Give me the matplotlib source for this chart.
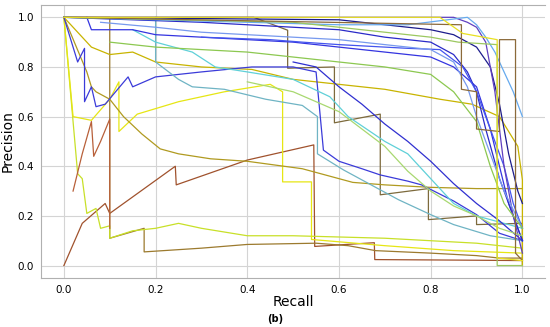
import numpy as np
import matplotlib.pyplot as plt

# -----------------------------
# PR CURVES
# -----------------------------
sienna_r = [0.0, 0.04, 0.09, 0.10, 0.243, 0.245, 0.40, 0.545, 0.547, 0.677, 0.678, 0.85, 1.0]
sienna_p = [0.0, 0.17, 0.25, 0.21, 0.40, 0.325, 0.425, 0.486, 0.077, 0.092, 0.024, 0.022, 0.02]

oliveb_r = [0.0, 0.414, 0.488, 0.488, 0.59, 0.59, 0.69, 0.69, 0.795, 0.795, 0.90, 0.90, 1.0, 1.0]
oliveb_p = [1.0, 1.0, 0.948, 0.795, 0.80, 0.575, 0.61, 0.285, 0.31, 0.185, 0.20, 0.165, 0.17, 0.0]

low_r = [0.0, 0.10, 0.10, 0.175, 0.175, 0.30, 0.40, 0.55, 0.62, 0.68, 0.80, 0.90, 0.95, 1.0]
low_p = [1.0, 1.0, 0.11, 0.15, 0.055, 0.07, 0.085, 0.09, 0.08, 0.06, 0.05, 0.04, 0.03, 0.03]

ygreen_r = [0.0, 0.03, 0.04, 0.05, 0.07, 0.08, 0.10, 0.10, 0.15, 0.20, 0.25, 0.30, 0.40, 0.50, 0.60, 0.70, 0.80, 0.90, 1.0]
ygreen_p = [1.0, 0.37, 0.35, 0.21, 0.23, 0.15, 0.16, 0.11, 0.14, 0.15, 0.17, 0.15, 0.12, 0.12, 0.115, 0.11, 0.10, 0.09, 0.07]

yellow_r = [0.0, 0.02, 0.06, 0.10, 0.12, 0.12, 0.16, 0.25, 0.35, 0.45, 0.477, 0.477, 0.54, 0.54, 0.70, 0.85, 1.0]
yellow_p = [1.0, 0.60, 0.585, 0.67, 0.74, 0.54, 0.61, 0.66, 0.70, 0.73, 0.70, 0.337, 0.337, 0.105, 0.08, 0.06, 0.05]

olive_r = [0.0, 0.05, 0.06, 0.07, 0.10, 0.13, 0.17, 0.21, 0.25, 0.32, 0.40, 0.52, 0.63, 0.70, 0.80, 0.90, 1.0]
olive_p = [1.0, 0.78, 0.72, 0.70, 0.67, 0.60, 0.53, 0.47, 0.45, 0.43, 0.42, 0.39, 0.335, 0.325, 0.315, 0.31, 0.31]

gold_r = [0.0, 0.06, 0.10, 0.15, 0.20, 0.25, 0.30, 0.41, 0.50, 0.60, 0.70, 0.82, 0.89, 0.95, 0.99, 1.0, 1.0]
gold_p = [1.0, 0.88, 0.85, 0.86, 0.82, 0.81, 0.80, 0.79, 0.75, 0.73, 0.71, 0.67, 0.65, 0.60, 0.48, 0.345, 0.0]

blue_mid_r = [0.0, 0.03, 0.045, 0.045, 0.06, 0.07, 0.09, 0.14, 0.15, 0.20, 0.30, 0.41, 0.50, 0.55, 0.566, 0.60, 0.65, 0.69, 0.75, 0.78, 0.85, 0.90, 0.95, 1.0]
blue_mid_p = [1.0, 0.82, 0.875, 0.66, 0.72, 0.64, 0.65, 0.76, 0.72, 0.76, 0.78, 0.80, 0.80, 0.78, 0.465, 0.42, 0.39, 0.365, 0.34, 0.325, 0.26, 0.205, 0.13, 0.10]

teal_r = [0.20, 0.20, 0.25, 0.28, 0.35, 0.44, 0.52, 0.553, 0.553, 0.61, 0.67, 0.73, 0.80, 0.85, 0.93, 1.0]
teal_p = [1.0, 0.82, 0.75, 0.72, 0.71, 0.67, 0.645, 0.60, 0.45, 0.385, 0.325, 0.265, 0.205, 0.165, 0.12, 0.10]

teal2_r = [0.15, 0.20, 0.28, 0.33, 0.40, 0.50, 0.58, 0.62, 0.70, 0.75, 0.80, 0.85, 0.90, 1.0]
teal2_p = [0.95, 0.90, 0.86, 0.80, 0.78, 0.75, 0.68, 0.60, 0.50, 0.45, 0.35, 0.25, 0.20, 0.15]

blue_a_r = [0.05, 0.06, 0.15, 0.20, 0.30, 0.40, 0.50, 0.60, 0.70, 0.80, 0.85, 0.90, 0.93, 0.95, 0.97, 1.0]
blue_a_p = [1.0, 0.95, 0.95, 0.93, 0.92, 0.91, 0.90, 0.88, 0.86, 0.84, 0.80, 0.72, 0.55, 0.40, 0.25, 0.10]

blue_b_r = [0.0, 0.30, 0.50, 0.60, 0.70, 0.80, 0.85, 0.88, 0.90, 0.92, 0.95, 0.98, 1.0]
blue_b_p = [1.0, 0.98, 0.96, 0.95, 0.92, 0.90, 0.85, 0.78, 0.70, 0.55, 0.35, 0.20, 0.10]

blue_c_r = [0.30, 0.45, 0.52, 0.60, 0.70, 0.75, 0.82, 0.87, 0.90, 0.93, 0.96, 0.98, 1.0]
blue_c_p = [0.92, 0.91, 0.90, 0.89, 0.88, 0.875, 0.87, 0.80, 0.70, 0.55, 0.40, 0.25, 0.15]

blue_d_r = [0.50, 0.55, 0.60, 0.65, 0.70, 0.75, 0.80, 0.85, 0.90, 0.95, 1.0]
blue_d_p = [0.82, 0.80, 0.72, 0.65, 0.57, 0.50, 0.42, 0.33, 0.25, 0.18, 0.10]

navy_r = [0.0, 0.60, 0.70, 0.80, 0.85, 0.90, 0.93, 0.95, 0.97, 0.99, 1.0]
navy_p = [1.0, 0.99, 0.97, 0.95, 0.93, 0.88, 0.80, 0.65, 0.45, 0.30, 0.25]

purple_r = [0.0, 0.85, 0.88, 0.90, 0.92, 0.94, 0.96, 0.98, 1.0]
purple_p = [1.0, 1.0, 0.98, 0.96, 0.90, 0.70, 0.40, 0.20, 0.05]

lblue_r = [0.0, 0.40, 0.60, 0.75, 0.88, 0.90, 0.92, 0.94, 0.96, 0.98, 1.0]
lblue_p = [1.0, 0.98, 0.97, 0.97, 1.0, 0.97, 0.92, 0.86, 0.78, 0.70, 0.60]

cflower_r = [0.08, 0.20, 0.30, 0.40, 0.50, 0.60, 0.70, 0.80, 0.85, 0.88, 0.90, 0.93, 0.96, 1.0]
cflower_p = [0.98, 0.96, 0.94, 0.93, 0.92, 0.91, 0.89, 0.87, 0.82, 0.72, 0.60, 0.45, 0.30, 0.15]

green_r = [0.10, 0.20, 0.30, 0.40, 0.50, 0.60, 0.70, 0.80, 0.85, 0.90, 0.93, 0.96, 1.0]
green_p = [0.90, 0.88, 0.87, 0.86, 0.84, 0.82, 0.80, 0.77, 0.70, 0.58, 0.40, 0.25, 0.15]

lgreen_r = [0.40, 0.45, 0.50, 0.55, 0.60, 0.65, 0.70, 0.75, 0.80, 0.85, 0.90, 0.95, 1.0]
lgreen_p = [0.74, 0.72, 0.70, 0.66, 0.62, 0.55, 0.48, 0.38, 0.30, 0.24, 0.20, 0.15, 0.12]

green2_r = [0.0, 0.50, 0.60, 0.70, 0.80, 0.86, 0.945, 0.945, 1.0]
green2_p = [1.0, 0.98, 0.96, 0.94, 0.92, 0.90, 0.89, 0.0, 0.0]

brown_r = [0.0, 0.867, 0.867, 0.90, 0.90, 0.95, 0.95, 0.985, 0.985, 1.0]
brown_p = [1.0, 0.97, 0.71, 0.70, 0.55, 0.54, 0.91, 0.91, 0.05, 0.02]

yel2_r = [0.0, 0.82, 0.87, 0.945, 0.945, 1.0]
yel2_p = [1.0, 1.0, 0.935, 0.91, 0.03, 0.02]

zig_r = [0.02, 0.04, 0.06, 0.065, 0.08, 0.10, 0.10]
zig_p = [0.30, 0.45, 0.58, 0.44, 0.50, 0.59, 0.15]

curves = [
    ("#a0522d", sienna_r, sienna_p),
    ("#7d6a3c", oliveb_r, oliveb_p),
    ("#9c7a2e", low_r, low_p),
    ("#c8e028", ygreen_r, ygreen_p),
    ("#e6e614", yellow_r, yellow_p),
    ("#b09a20", olive_r, olive_p),
    ("#c8b400", gold_r, gold_p),
    ("#3b3bd9", blue_mid_r, blue_mid_p),
    ("#6fb4c4", teal_r, teal_p),
    ("#5fd0d8", teal2_r, teal2_p),
    ("#3434e0", blue_a_r, blue_a_p),
    ("#2a2ac8", blue_b_r, blue_b_p),
    ("#4455ee", blue_c_r, blue_c_p),
    ("#3030d0", blue_d_r, blue_d_p),
    ("#1c1c8c", navy_r, navy_p),
    ("#6040c0", purple_r, purple_p),
    ("#66aaee", lblue_r, lblue_p),
    ("#7799ee", cflower_r, cflower_p),
    ("#8cc850", green_r, green_p),
    ("#a8d870", lgreen_r, lgreen_p),
    ("#9cc860", green2_r, green2_p),
    ("#8b6a3a", brown_r, brown_p),
    ("#e8e020", yel2_r, yel2_p),
    ("#b8603a", zig_r, zig_p),
]

fig = plt.figure(figsize=(5.5, 3.27), dpi=100)
ax = fig.add_axes([0.0745, 0.150, 0.917, 0.835])

for colour, r, p in curves:
    ax.plot(r, p, color=colour, lw=0.9)

ax.set_xlim(-0.05, 1.05)
ax.set_ylim(-0.05, 1.05)
ax.set_xticks(np.arange(0, 1.01, 0.2))
ax.set_yticks(np.arange(0, 1.01, 0.2))
ax.tick_params(length=0, labelsize=7.5, pad=5)
ax.grid(True, color="#d4d4d4", lw=0.8)
ax.set_axisbelow(True)
for s in ax.spines.values():
    s.set_color("#b0b0b0")
ax.spines["right"].set_visible(False)

ax.set_xlabel("Recall", fontsize=10, labelpad=0)
ax.set_ylabel("Precision", fontsize=10, labelpad=2)
fig.text(0.5, 0.008, "(b)", ha="center", va="bottom", fontsize=7, fontweight="bold")

fig.savefig("out.png", dpi=100)
